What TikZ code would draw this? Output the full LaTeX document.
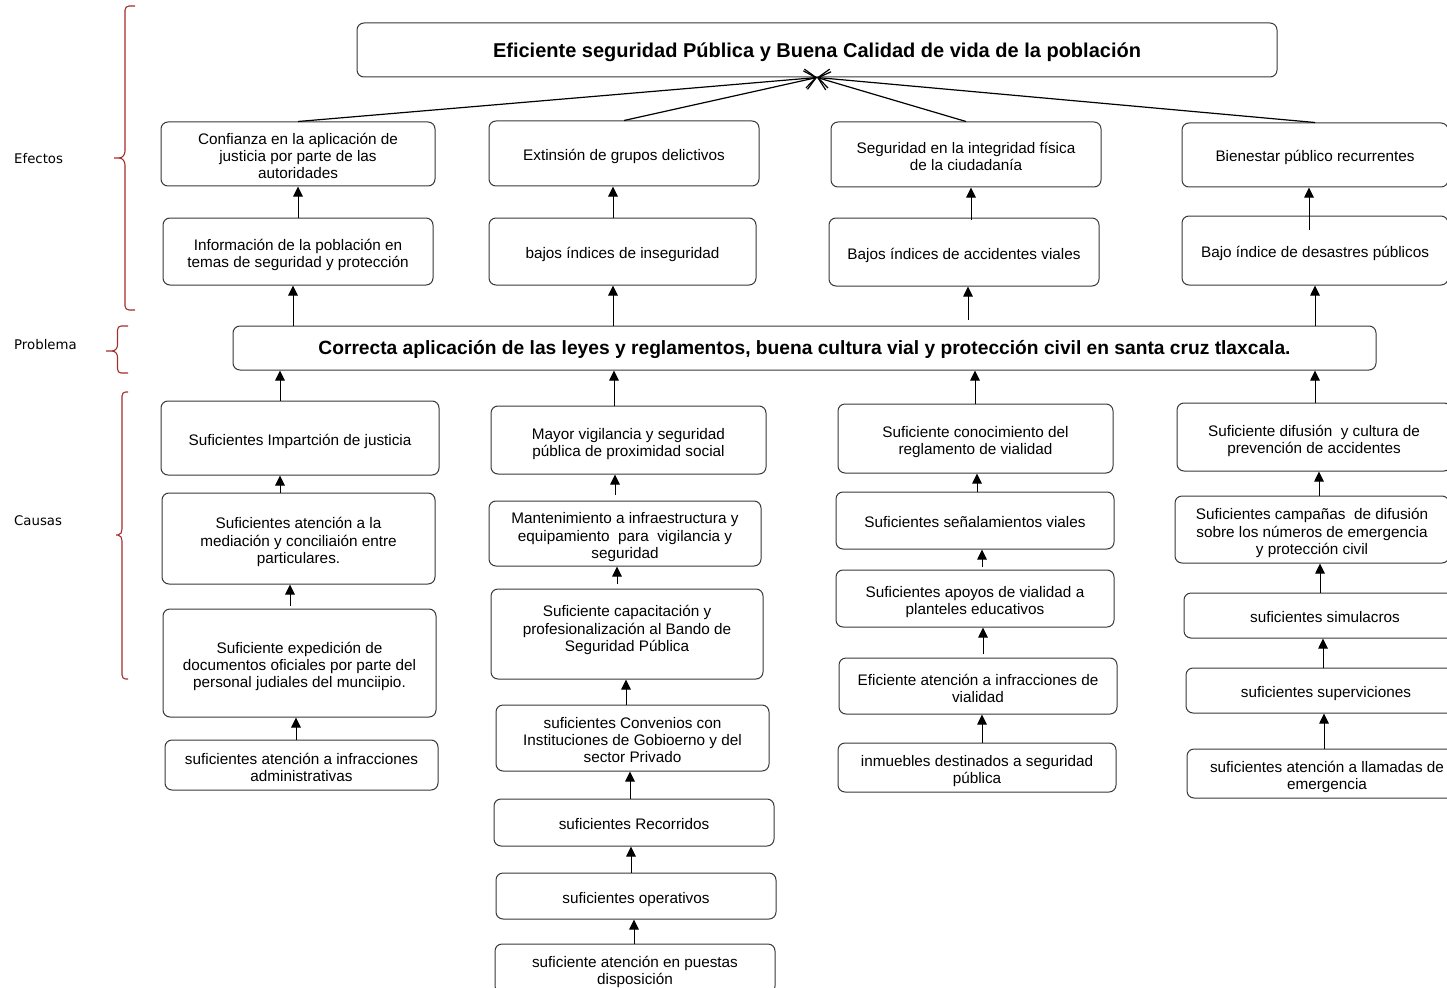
\documentclass[tikz,border=0pt]{standalone}
\usepackage{fontspec}
\setmainfont{Liberation Sans}
\newfontfamily\sidefont{DejaVu Sans}
\usetikzlibrary{arrows.meta}
\definecolor{bracered}{RGB}{165,45,45}
\begin{document}
\begin{tikzpicture}[x=1pt,y=-1pt,
  box/.style={draw=black!78, line width=1pt, rounded corners=7pt, align=center, inner sep=0pt,
    font=\fontsize{15.3}{17.2}\selectfont,
    execute at begin node={\rule{0pt}{18.5pt}},
    execute at end node={\rule[-4.5pt]{0pt}{4.5pt}}},
  mltwo/.style={execute at begin node={\rule{0pt}{37pt}}},
  mlthree/.style={execute at begin node={\rule{0pt}{54pt}}},
  big/.style={box, font=\fontsize{20}{24}\selectfont\bfseries,
    execute at begin node={\rule{0pt}{20pt}},
    execute at end node={\rule[-5pt]{0pt}{5pt}}},
  prob/.style={box, font=\fontsize{19.2}{23}\selectfont\bfseries,
    execute at begin node={\rule{0pt}{17pt}},
    execute at end node={\rule[-5pt]{0pt}{5pt}}},
  txt/.style={align=center, inner sep=0pt, font=\fontsize{15.3}{17.2}\selectfont,
    execute at begin node={\rule{0pt}{54pt}},
    execute at end node={\rule[-4.5pt]{0pt}{4.5pt}}},
  up/.style={-{Triangle[length=10pt,width=9.5pt]}, line width=1pt},
  conv/.style={-{Straight Barb[length=11pt,width=19pt]}, line width=1.2pt},
  brc/.style={draw=bracered, line width=1.1pt},
  side/.style={anchor=west, inner sep=0pt, font=\sidefont\fontsize{13.3}{16}\selectfont}
]
\useasboundingbox (0,0) rectangle (1447,987);

% side labels
\node[side] (lef) at (14,159) {Efectos};
\node[side] (lpr) at (14,345) {Problema};
\node[side] (lca) at (14,521) {Causas};

% braces
\draw[brc] (135,6) -- (129,6) to[out=180,in=90] (125,10) -- (125,151)
  to[out=-90,in=0] (119,158) -- (114,158);
\draw[brc] (119,158) to[out=0,in=90] (125,165) -- (125,306)
  to[out=-90,in=180] (129,310) -- (135,310);
\draw[brc] (128,326) -- (121,326) to[out=180,in=90] (117.5,330) -- (117.5,345)
  to[out=-90,in=0] (112,351) -- (106,351);
\draw[brc] (112,351) to[out=0,in=90] (117.5,357) -- (117.5,369)
  to[out=-90,in=180] (121,373) -- (128,373);
\draw[brc] (128,392) -- (125.5,392) to[out=180,in=90] (122,396) -- (122,529)
  to[out=-90,in=0] (118,535) -- (116,535);
\draw[brc] (118,535) to[out=0,in=90] (122,541) -- (122,675)
  to[out=-90,in=180] (125.5,679) -- (128,679);

% top
\node[big, minimum width=920pt, minimum height=54pt] (top) at (817,50)
  {Eficiente seguridad Pública y Buena Calidad de vida de la población};

% effects row 1
\node[box, mlthree, minimum width=274pt, minimum height=64pt] (e1) at (298,154)
  {Confianza en la aplicación de\\justicia por parte de las\\autoridades};
\node[box, minimum width=270pt, minimum height=65pt] (e2) at (624,153.5)
  {Extinsión de grupos delictivos};
\node[box, mltwo, minimum width=270pt, minimum height=65pt] (e3) at (966,154.5)
  {Seguridad en la integridad física\\de la ciudadanía};
\node[box, minimum width=266pt, minimum height=64pt] (e4) at (1315,155)
  {Bienestar público recurrentes};

% effects row 2
\node[box, mltwo, minimum width=270pt, minimum height=67pt] (f1) at (298,251.5)
  {Información de la población en\\temas de seguridad y protección};
\node[box, minimum width=267pt, minimum height=67pt] (f2) at (622.5,251.5)
  {bajos índices de inseguridad};
\node[box, minimum width=270pt, minimum height=68pt] (f3) at (964,252)
  {Bajos índices de accidentes viales};
\node[box, minimum width=266pt, minimum height=69pt] (f4) at (1315,250.5)
  {Bajo índice de desastres públicos};

% problem
\node[prob, minimum width=1143pt, minimum height=44pt] (p) at (804.5,348)
  {Correcta aplicación de las leyes y reglamentos, buena cultura vial y protección civil en santa cruz tlaxcala.};

% causes column 1
\node[box, minimum width=278pt, minimum height=74pt] (c1a) at (300,438)
  {Suficientes Impartción de justicia};
\node[box, mlthree, minimum width=273pt, minimum height=91pt] (c1b) at (298.5,538.5)
  {Suficientes atención a la\\mediación y conciliaión entre\\particulares.};
\node[box, mlthree, minimum width=273pt, minimum height=108pt] (c1c) at (299.5,663)
  {Suficiente expedición de\\documentos oficiales por parte del\\personal judiales del munciipio.};
\node[box, mltwo, minimum width=273pt, minimum height=50pt] (c1d) at (301.5,765)
  {suficientes atención a infracciones\\administrativas};

% causes column 2
\node[box, mltwo, minimum width=275pt, minimum height=68pt] (c2a) at (628.5,440)
  {Mayor vigilancia y seguridad\\pública de proximidad social};
\node[box, mlthree, minimum width=272pt, minimum height=65pt] (c2b) at (625,533.5)
  {Mantenimiento a infraestructura y\\equipamiento\ \ para\ \ vigilancia y\\seguridad};
\node[box, minimum width=272pt, minimum height=90pt] (c2c) at (627,634) {};
\node[txt] (c2ct) at ([yshift=7.5pt]c2c.center)
  {Suficiente capacitación y\\profesionalización al Bando de\\Seguridad Pública};
\node[box, mlthree, minimum width=273pt, minimum height=66pt] (c2d) at (632.5,738)
  {suficientes Convenios con\\Instituciones de Gobioerno y del\\sector Privado};
\node[box, minimum width=280pt, minimum height=47pt] (c2e) at (634,822.5)
  {suficientes Recorridos};
\node[box, minimum width=280pt, minimum height=46pt] (c2f) at (636,896)
  {suficientes operativos};
\node[box, mltwo, minimum width=280pt, minimum height=49pt] (c2g) at (635,968.5)
  {suficiente atención en puestas\\disposición};

% causes column 3
\node[box, mltwo, minimum width=275pt, minimum height=69pt] (c3a) at (975.5,438.5)
  {Suficiente conocimiento del\\reglamento de vialidad};
\node[box, minimum width=278pt, minimum height=57pt] (c3b) at (975,520.5)
  {Suficientes señalamientos viales};
\node[box, mltwo, minimum width=278pt, minimum height=57pt] (c3c) at (975,598.5)
  {Suficientes apoyos de vialidad a\\planteles educativos};
\node[box, mltwo, minimum width=278pt, minimum height=56pt] (c3d) at (978,686)
  {Eficiente atención a infracciones de\\vialidad};
\node[box, mltwo, minimum width=278pt, minimum height=49pt] (c3e) at (977,767.5)
  {inmuebles destinados a seguridad\\pública};

% causes column 4
\node[box, mltwo, minimum width=274pt, minimum height=68pt] (c4a) at (1314,437)
  {Suficiente difusión\ \ y cultura de\\prevención de accidentes};
\node[box, mlthree, minimum width=274pt, minimum height=67pt] (c4b) at (1312,529.5)
  {Suficientes campañas\ \ de difusión\\sobre los números de emergencia\\y protección civil};
\node[box, minimum width=282pt, minimum height=45pt] (c4c) at (1325,615.5)
  {suficientes simulacros};
\node[box, minimum width=280pt, minimum height=45pt] (c4d) at (1326,690.5)
  {suficientes superviciones};
\node[box, mltwo, minimum width=280pt, minimum height=49pt] (c4e) at (1327,773.5)
  {suficientes atención a llamadas de\\emergencia};

% converging lines
\draw[conv] (e1.north) -- (top.south);
\draw[conv] (e2.north) -- (top.south);
\draw[conv] (e3.north) -- (top.south);
\draw[conv] (e4.north) -- (top.south);

% effects arrows
\draw[up] (f1.north -| 298,0) -- (e1.south -| 298,0);
\draw[up] (f2.north -| 613,0) -- (e2.south -| 613,0);
\draw[up] ([yshift=-2pt]f3.north -| 971,0) -- (e3.south -| 971,0);
\draw[up] ([yshift=-14pt]f4.north -| 1309,0) -- (e4.south -| 1309,0);

% problem to effects
\draw[up] (p.north -| 293,0) -- (f1.south -| 293,0);
\draw[up] (p.north -| 613,0) -- (f2.south -| 613,0);
\draw[up] ([yshift=6pt]p.north -| 968,0) -- (f3.south -| 968,0);
\draw[up] (p.north -| 1315,0) -- (f4.south -| 1315,0);

% causes to problem
\draw[up] (c1a.north -| 280,0) -- (p.south -| 280,0);
\draw[up] (c2a.north -| 614,0) -- (p.south -| 614,0);
\draw[up] (c3a.north -| 975,0) -- (p.south -| 975,0);
\draw[up] (c4a.north -| 1315,0) -- (p.south -| 1315,0);

% column 1
\draw[up] (c1b.north -| 280,0) -- (c1a.south -| 280,0);
\draw[up] ([yshift=3pt]c1c.north -| 290,0) -- (c1b.south -| 290,0);
\draw[up] (c1d.north -| 296,0) -- (c1c.south -| 296,0);

% column 2
\draw[up] ([yshift=6pt]c2b.north -| 615,0) -- (c2a.south -| 615,0);
\draw[up] ([yshift=5pt]c2c.north -| 617,0) -- (c2b.south -| 617,0);
\draw[up] (c2d.north -| 626,0) -- (c2c.south -| 626,0);
\draw[up] (c2e.north -| 630,0) -- (c2d.south -| 630,0);
\draw[up] (c2f.north -| 631,0) -- (c2e.south -| 631,0);
\draw[up] (c2g.north -| 634,0) -- (c2f.south -| 634,0);

% column 3
\draw[up] (c3b.north -| 977,0) -- (c3a.south -| 977,0);
\draw[up] ([yshift=3pt]c3c.north -| 982,0) -- (c3b.south -| 982,0);
\draw[up] ([yshift=4pt]c3d.north -| 983,0) -- (c3c.south -| 983,0);
\draw[up] (c3e.north -| 982,0) -- (c3d.south -| 982,0);

% column 4
\draw[up] (c4b.north -| 1319,0) -- (c4a.south -| 1319,0);
\draw[up] (c4c.north -| 1320,0) -- (c4b.south -| 1320,0);
\draw[up] (c4d.north -| 1323,0) -- (c4c.south -| 1323,0);
\draw[up] (c4e.north -| 1324,0) -- (c4d.south -| 1324,0);
\end{tikzpicture}
\end{document}
